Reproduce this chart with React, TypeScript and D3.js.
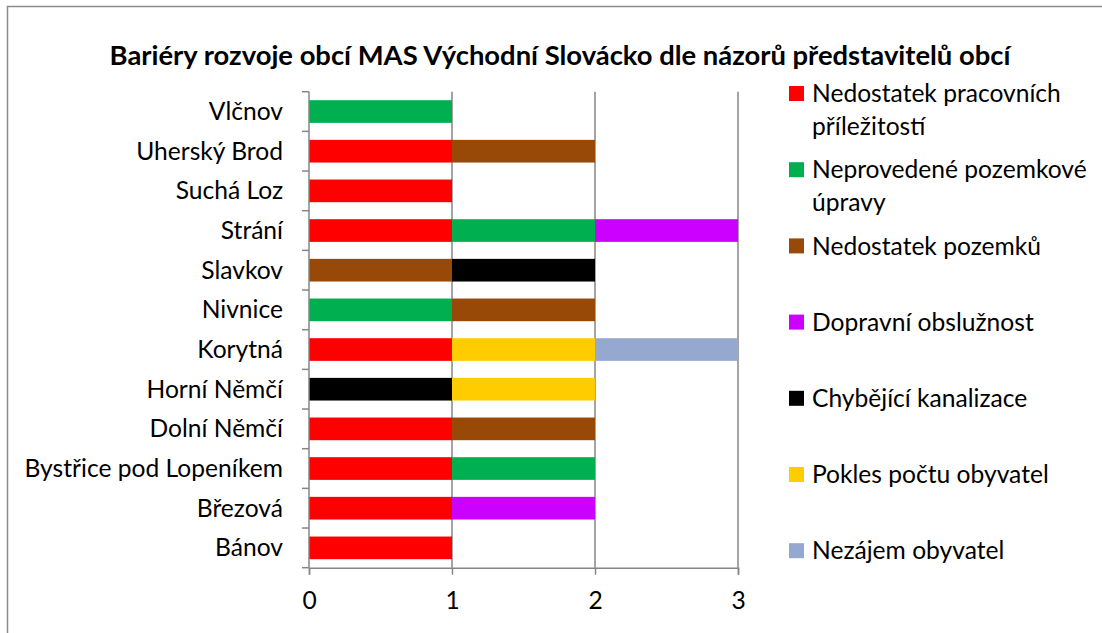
import * as d3 from "d3";
import { useEffect, useRef } from "react";

// categories, bottom to top as in the chart
const categories = [
  "Bánov",
  "Březová",
  "Bystřice pod Lopeníkem",
  "Dolní Němčí",
  "Horní Němčí",
  "Korytná",
  "Nivnice",
  "Slavkov",
  "Strání",
  "Suchá Loz",
  "Uherský Brod",
  "Vlčnov",
];

const seriesNames = [
  "Nedostatek pracovních příležitostí",
  "Neprovedené pozemkové úpravy",
  "Nedostatek pozemků",
  "Dopravní obslužnost",
  "Chybějící kanalizace",
  "Pokles počtu obyvatel",
  "Nezájem obyvatel",
];

// legend labels split into lines as they wrap in the picture
const legendLines = [
  ["Nedostatek pracovních", "příležitostí"],
  ["Neprovedené pozemkové", "úpravy"],
  ["Nedostatek pozemků"],
  ["Dopravní obslužnost"],
  ["Chybějící kanalizace"],
  ["Pokles počtu obyvatel"],
  ["Nezájem obyvatel"],
];

const seriesColors = ["#ff0000", "#00b050", "#984807", "#cc00ff", "#000000", "#ffcc00", "#95a9d0"];

// one value per category (Bánov ... Vlčnov)
const pracovniPrilezitosti = [1, 1, 1, 1, 0, 1, 0, 0, 1, 1, 1, 0];
const pozemkoveUpravy = [0, 0, 1, 0, 0, 0, 1, 0, 1, 0, 0, 1];
const nedostatekPozemku = [0, 0, 0, 1, 0, 0, 1, 1, 0, 0, 1, 0];
const dopravniObsluznost = [0, 1, 0, 0, 0, 0, 0, 0, 1, 0, 0, 0];
const kanalizace = [0, 0, 0, 0, 1, 0, 0, 1, 0, 0, 0, 0];
const poklesObyvatel = [0, 0, 0, 0, 1, 1, 0, 0, 0, 0, 0, 0];
const nezajemObyvatel = [0, 0, 0, 0, 0, 1, 0, 0, 0, 0, 0, 0];

const xTicks = [0, 1, 2, 3];

const title = "Bariéry rozvoje obcí MAS Východní Slovácko dle názorů představitelů obcí";

export default function App() {
  const ref = useRef<SVGSVGElement>(null);

  useEffect(() => {
    const width = 1102;
    const height = 633;
    const font = "Lato, 'Open Sans', sans-serif";
    const fontSize = "24.6px";
    const axisColor = "#868686";

    const svg = d3.select(ref.current).attr("width", width).attr("height", height);
    svg.selectAll("*").remove();

    const values = [
      pracovniPrilezitosti,
      pozemkoveUpravy,
      nedostatekPozemku,
      dopravniObsluznost,
      kanalizace,
      poklesObyvatel,
      nezajemObyvatel,
    ];

    const rows = categories.map((c, i) => {
      const row: any = { category: c };
      seriesNames.forEach((s, j) => (row[s] = values[j][i]));
      return row;
    });

    const stacked = d3.stack().keys(seriesNames)(rows);

    // chart frame (cut off right and bottom in the picture)
    svg.append("rect")
      .attr("x", 7.5)
      .attr("y", 6.5)
      .attr("width", 1300)
      .attr("height", 800)
      .attr("fill", "white")
      .attr("stroke", "#8c8c8c")
      .attr("stroke-width", 1.5);

    svg.append("text")
      .attr("x", 560)
      .attr("y", 55)
      .attr("dy", "0.35em")
      .attr("text-anchor", "middle")
      .style("font-family", font)
      .style("font-weight", "bold")
      .style("font-size", "27.4px")
      .text(title);

    const x = d3.scaleLinear().domain([0, 3]).range([309, 738]);

    const y = d3.scaleBand()
      .domain(categories.slice().reverse())
      .range([91.7, 567.7])
      .paddingInner(0.75 / 1.75)
      .paddingOuter(0.75 / 3.5);

    // vertical gridlines
    svg.append("g")
      .selectAll("line")
      .data(xTicks.slice(1))
      .join("line")
      .attr("x1", d => x(d))
      .attr("x2", d => x(d))
      .attr("y1", y.range()[0])
      .attr("y2", y.range()[1])
      .attr("stroke", axisColor)
      .attr("stroke-width", 1.5);

    // stacked bars
    svg.append("g")
      .selectAll("g")
      .data(stacked)
      .join("g")
      .attr("fill", (d, i) => seriesColors[i])
      .selectAll("rect")
      .data(d => d.filter(p => p[1] - p[0] > 0))
      .join("rect")
      .attr("x", d => x(d[0]))
      .attr("width", d => x(d[1]) - x(d[0]))
      .attr("y", d => y((d.data as any).category)!)
      .attr("height", y.bandwidth());

    // x axis
    const xAxis = svg.append("g")
      .attr("transform", `translate(0,${y.range()[1]})`)
      .call(d3.axisBottom(x).tickValues(xTicks).tickFormat(d3.format("d")).tickSize(7).tickPadding(17));
    xAxis.select(".domain").attr("stroke", axisColor).attr("stroke-width", 1.5);
    xAxis.selectAll(".tick line").attr("stroke", axisColor).attr("stroke-width", 1.5);
    xAxis.selectAll("text")
      .style("font-family", font)
      .style("font-size", fontSize)
      .attr("fill", "#000");

    // y axis line with ticks at category boundaries
    const step = y.step();
    const boundaries = d3.range(categories.length + 1).map(i => y.range()[0] + i * step);
    const yAxis = svg.append("g");
    yAxis.append("line")
      .attr("x1", x(0))
      .attr("x2", x(0))
      .attr("y1", y.range()[0])
      .attr("y2", y.range()[1])
      .attr("stroke", axisColor)
      .attr("stroke-width", 1.5);
    yAxis.selectAll(".ytick")
      .data(boundaries)
      .join("line")
      .classed("ytick", true)
      .attr("x1", x(0) - 7)
      .attr("x2", x(0))
      .attr("y1", d => d)
      .attr("y2", d => d)
      .attr("stroke", axisColor)
      .attr("stroke-width", 1.5);
    yAxis.selectAll(".ylabel")
      .data(categories)
      .join("text")
      .classed("ylabel", true)
      .attr("x", 283)
      .attr("y", d => y(d)! + y.bandwidth() / 2)
      .attr("dy", "0.35em")
      .attr("text-anchor", "end")
      .style("font-family", font)
      .style("font-size", fontSize)
      .text(d => d);

    // legend
    const legend = svg.append("g").attr("transform", "translate(789,93.5)");
    const item = legend.selectAll("g")
      .data(seriesNames)
      .join("g")
      .attr("transform", (d, i) => `translate(0,${i * 76.2})`);
    item.append("rect")
      .attr("x", 0)
      .attr("y", -7.5)
      .attr("width", 15)
      .attr("height", 15)
      .attr("fill", (d, i) => seriesColors[i]);
    item.append("text")
      .attr("x", 23)
      .attr("y", 0)
      .style("font-family", font)
      .style("font-size", fontSize)
      .selectAll("tspan")
      .data((d, i) => legendLines[i])
      .join("tspan")
      .attr("x", 23)
      .attr("y", (d, j) => j * 33)
      .attr("dy", "0.35em")
      .text(d => d);
  }, []);

  return (
    <svg ref={ref} style={{ position: "absolute", left: 0, top: 0 }}></svg>
  );
}
